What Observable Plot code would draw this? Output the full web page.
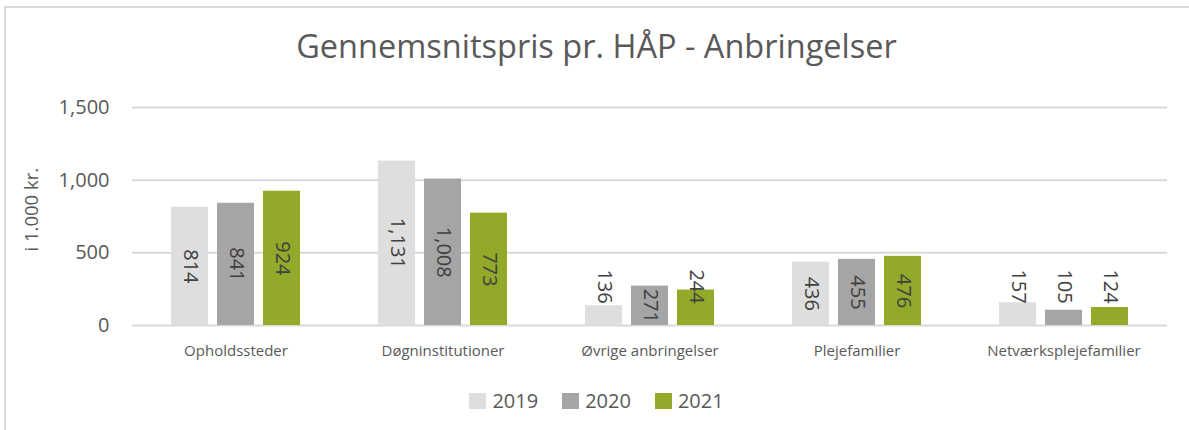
<!DOCTYPE html>
<html>
<head>
<meta charset="utf-8">
<script src="https://cdn.jsdelivr.net/npm/d3@7"></script>
<script src="https://cdn.jsdelivr.net/npm/@observablehq/plot@0.6"></script>
<style>
  html, body { margin: 0; padding: 0; background: #fff; }
  body { width: 1189px; height: 430px; position: relative; overflow: hidden; font-family: "Open Sans", sans-serif; color: #595959; }
  #frame { position: absolute; left: 4px; top: 6px; width: 1185px; height: 424px; border-top: 2px solid #d9d9d9; border-left: 2px solid #d9d9d9; box-sizing: border-box; }
  #title { position: absolute; left: 4px; width: 1185px; top: 25px; text-align: center; font-size: 32.5px; line-height: 42px; color: #595959; }
  #chart { position: absolute; left: 0; top: 90px; }
  #legend { position: absolute; left: 4px; width: 1185px; top: 389px; display: flex; justify-content: center; align-items: center; gap: 24px; font-size: 20px; line-height: 24px; color: #595959; }
  .item { display: flex; align-items: center; gap: 6px; }
  .sw { width: 17px; height: 16px; display: inline-block; }
</style>
</head>
<body>
<div id="frame"></div>
<div id="title">Gennemsnitspris pr. HÅP - Anbringelser</div>
<div id="chart"></div>
<div id="legend"></div>
<script>
const categories = ["Opholdssteder", "Døgninstitutioner", "Øvrige anbringelser", "Plejefamilier", "Netværksplejefamilier"];
const years = ["2019", "2020", "2021"];
const values2019 = [814, 1131, 136, 436, 157];
const values2020 = [841, 1008, 271, 455, 105];
const values2021 = [924, 773, 244, 476, 124];
const yTicks = [0, 500, 1000, 1500];
const yLabel = "i 1.000 kr.";
const colors = ["#dedede", "#a5a5a5", "#93a92a"];

const series = [values2019, values2020, values2021];
const data = [];
categories.forEach((c, i) => {
  years.forEach((y, j) => data.push({category: c, year: y, value: series[j][i]}));
});

// Excel places short-bar labels just above the bars
const smallLimit = 250;
const smallLabelY = 268;
const fmt = d3.format(",");

const chart = Plot.plot({
  width: 1189,
  height: 280,
  marginTop: 17,
  marginBottom: 45,
  marginLeft: 130,
  marginRight: 21,
  style: {fontFamily: "Open Sans, sans-serif", color: "#595959", background: "transparent"},
  fx: {domain: categories, padding: 0, label: null},
  x: {domain: years, paddingInner: 0.2, paddingOuter: 0.85, axis: null},
  y: {domain: [0, 1500], label: null},
  color: {domain: years, range: colors},
  marks: [
    Plot.gridY(yTicks, {stroke: "#d9d9d9", strokeWidth: 2, strokeOpacity: 1}),
    Plot.axisY(yTicks, {tickSize: 0, tickPadding: 23, fontSize: 20, fill: "#595959", tickFormat: fmt, label: null}),
    Plot.text([yLabel], {facet: "super", frameAnchor: "left", rotate: -90, dx: -100, dy: 35, fontSize: 18.5, fill: "#595959", text: d => d}),
    Plot.axisFx({anchor: "bottom", tickSize: 0, tickPadding: 20, fontSize: 15, fill: "#595959", label: null}),
    Plot.barY(data, {fx: "category", x: "year", y: "value", fill: "year"}),
    Plot.text(data, {fx: "category", x: "year",
      y: d => d.value < smallLimit ? smallLabelY : d.value / 2,
      text: d => fmt(d.value), rotate: 90, fontSize: 20, fill: "#404040"})
  ]
});
document.getElementById("chart").appendChild(chart);

const legend = document.getElementById("legend");
years.forEach((y, j) => {
  const it = document.createElement("div");
  it.className = "item";
  const sw = document.createElement("span");
  sw.className = "sw";
  sw.style.background = colors[j];
  const tx = document.createElement("span");
  tx.textContent = y;
  it.appendChild(sw); it.appendChild(tx);
  legend.appendChild(it);
});
</script>
</body>
</html>
